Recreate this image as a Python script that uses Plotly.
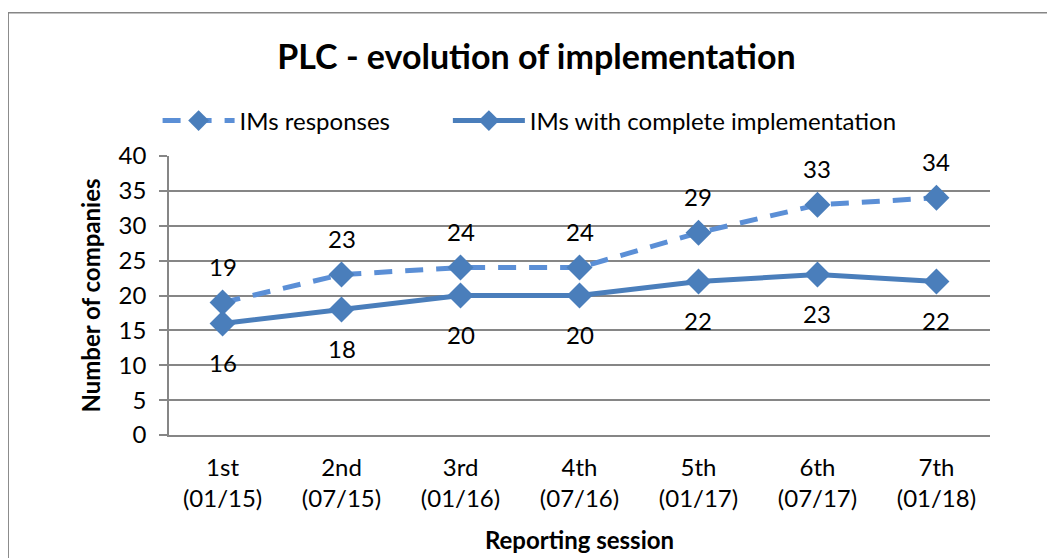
import plotly.graph_objects as go

categories = ["1st<br>(01/15)", "2nd<br>(07/15)", "3rd<br>(01/16)", "4th<br>(07/16)",
              "5th<br>(01/17)", "6th<br>(07/17)", "7th<br>(01/18)"]
responses = [19, 23, 24, 24, 29, 33, 34]
complete = [16, 18, 20, 20, 22, 23, 22]

# The page has an 8px body margin, so figure coordinates = screen - 8
OFF = 8
W, H = 1055, 558
L, R = 169.4 - OFF, 989.6 - OFF
T, B = 156 - OFF, 435 - OFF
font = "Lato, 'Open Sans', sans-serif"

fig = go.Figure()
fig.add_trace(go.Scatter(
    x=categories, y=responses, name="IMs responses", mode="lines+markers",
    line=dict(color="#5B8FD6", width=5, dash="18px,13px"),
    marker=dict(symbol="diamond", size=20, color="#4A7EBB"),
    legend="legend",
))
fig.add_trace(go.Scatter(
    x=categories, y=complete, name="IMs with complete implementation", mode="lines+markers",
    line=dict(color="#4A7EBB", width=5),
    marker=dict(symbol="diamond", size=20, color="#4A7EBB"),
    legend="legend2",
))

annotations = []
for c, v in zip(categories, responses):
    annotations.append(dict(x=c, y=v, xref="x", yref="y", text=str(v), showarrow=False,
                            yshift=36, font=dict(size=24, family=font, color="#000")))
for c, v in zip(categories, complete):
    annotations.append(dict(x=c, y=v, xref="x", yref="y", text=str(v), showarrow=False,
                            yshift=-39, font=dict(size=24, family=font, color="#000")))


def px(x):
    return (x - L) / (R - L)


def py(y):
    return (B - y) / (B - T)


legend_common = dict(orientation="h", xanchor="left", yanchor="middle", y=py(113),
                     font=dict(size=24), itemwidth=72, bgcolor="rgba(0,0,0,0)")

fig.update_layout(
    width=W, height=H,
    margin=dict(l=L, r=W - R, t=T, b=H - B, pad=0),
    paper_bgcolor="white", plot_bgcolor="white",
    font=dict(family=font, size=24, color="#000000"),
    title=dict(text="<b>PLC - evolution of implementation</b>", x=528.5 / W, xanchor="center",
               y=1 - 49 / H, yanchor="middle", font=dict(size=34, family=font)),
    legend=dict(x=px(150), **legend_common),
    legend2=dict(x=px(440), **legend_common),
    showlegend=True,
    annotations=annotations,
    xaxis=dict(showgrid=False, showline=True, linecolor="#868686", linewidth=1.5,
               ticks="", tickfont=dict(size=24), ticklabelstandoff=10,
               title=dict(text="<b>Reporting session</b>", font=dict(size=24), standoff=21)),
    yaxis=dict(range=[0, 40], dtick=5, showgrid=True, gridcolor="#868686", gridwidth=1.5,
               showline=True, linecolor="#868686", linewidth=1.5,
               ticks="outside", ticklen=8, tickcolor="#868686", tickwidth=1.5,
               tickfont=dict(size=24), zeroline=False, ticklabelstandoff=8,
               title=dict(text="<b>Number of companies</b>", font=dict(size=24), standoff=11)),
    shapes=[dict(type="rect", xref="paper", yref="paper",
                 x0=px(0.75), x1=px(1080), y0=py(4.75), y1=py(600),
                 line=dict(color="#868686", width=1.5), fillcolor="rgba(0,0,0,0)", layer="below")],
)

fig.write_html("out.html")
